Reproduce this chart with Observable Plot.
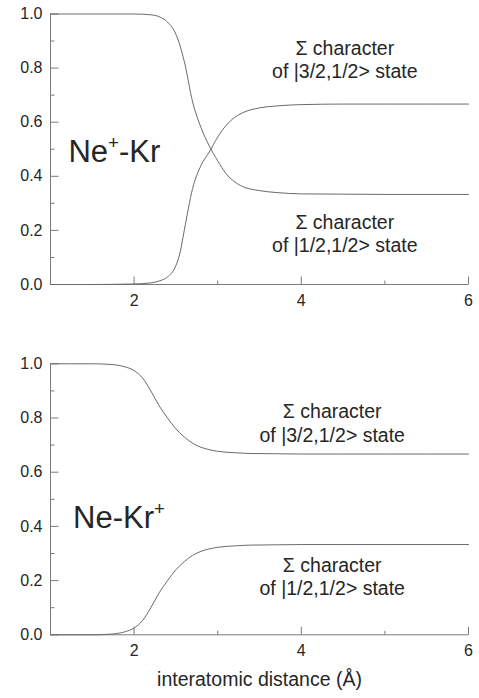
<!DOCTYPE html>
<html><head><meta charset="utf-8">
<script src="https://cdn.jsdelivr.net/npm/d3@7"></script>
<script src="https://cdn.jsdelivr.net/npm/@observablehq/plot@0.6"></script>
<style>
body{margin:0;background:#fff;}
#chart svg{display:block;}
</style></head><body><div id="chart"></div>
<script>
// ---- data ----
const topX = [1, 1.5, 2.0, 2.2, 2.3, 2.4, 2.5, 2.55, 2.6, 2.7, 2.8, 2.9, 3.0, 3.1, 3.2, 3.3, 3.5, 3.7, 4.0, 4.5, 5, 6];
const topHalf = [1, 1, 1.0, 0.997, 0.99, 0.97, 0.925, 0.882, 0.825, 0.675, 0.58, 0.512, 0.457, 0.41, 0.38, 0.362, 0.347, 0.34, 0.335, 0.334, 0.333, 0.333];
const topThreeHalf = [0, 0, 0.002, 0.006, 0.013, 0.028, 0.07, 0.118, 0.2, 0.355, 0.44, 0.49, 0.545, 0.588, 0.617, 0.635, 0.653, 0.66, 0.665, 0.667, 0.667, 0.667];

const botX = [1, 1.5, 1.7, 1.8, 1.9, 2.0, 2.1, 2.2, 2.3, 2.4, 2.5, 2.6, 2.7, 2.8, 2.9, 3.0, 3.2, 3.4, 3.7, 4.0, 4.5, 5, 6];
const botThreeHalf = [1, 1, 0.998, 0.995, 0.988, 0.975, 0.948, 0.9, 0.845, 0.8, 0.76, 0.73, 0.707, 0.692, 0.683, 0.677, 0.672, 0.669, 0.668, 0.667, 0.667, 0.667, 0.667];
const botHalf = [0, 0, 0.002, 0.005, 0.012, 0.025, 0.052, 0.1, 0.155, 0.2, 0.24, 0.27, 0.293, 0.308, 0.317, 0.323, 0.328, 0.331, 0.332, 0.333, 0.333, 0.333, 0.333];

const xMajor = [2, 4, 6];
const xMinor = [3, 5];
const yMajor = [0, 0.2, 0.4, 0.6, 0.8, 1.0];
const yMinor = [0.1, 0.3, 0.5, 0.7, 0.9];

const topLabel = "Ne^+^-Kr";
const botLabel = "Ne-Kr^+^";
const annThreeHalf = "\u03A3 character\nof |3/2,1/2> state";
const annHalf = "\u03A3 character\nof |1/2,1/2> state";
const xTitle = "interatomic distance (\u00C5)";

const FONT = "'Liberation Sans', Arial, Helvetica, sans-serif";
const AXC = "#7a7a7a";
const LINEC = "#6a6a6a";
const TXT = "#262626";
const W = 479, ML = 50, MR = 11;
const FW = W - ML - MR;
const XD = [1, 6], YD = [0, 1];

function rows(xs, ys) { return xs.map((x, i) => ({x, y: ys[i]})); }

function panel(o) {
  const FH = o.height - o.mt - o.mb;
  // tick lengths converted from pixels into data units of each scale
  const xPer = (XD[1] - XD[0]) / FW, yPer = (YD[1] - YD[0]) / FH;
  const yTicks = (vals, len) => Plot.link(vals, {x1: XD[0], x2: XD[0] + len * xPer, y1: d => d, y2: d => d, stroke: AXC, strokeWidth: 1});
  const xTicks = (vals, len) => Plot.link(vals, {y1: YD[0], y2: YD[0] + len * yPer, x1: d => d, x2: d => d, stroke: AXC, strokeWidth: 1});
  const marks = [
    Plot.ruleX([1], {stroke: AXC}),
    Plot.ruleY([0], {stroke: AXC}),
    yTicks(yMajor, 8),
    yTicks(yMinor, 4),
    xTicks(xMajor, 8),
    xTicks(xMinor, 4),
    Plot.axisY({ticks: yMajor, tickSize: 0, tickPadding: 8, tickFormat: d3.format(".1f"), label: null, fill: TXT, fontSize: 16}),
    Plot.axisX({ticks: xMajor, tickSize: 0, tickPadding: 10, tickFormat: d3.format("d"), label: null, fill: TXT, fontSize: 16}),
    Plot.line(rows(o.xs, o.a), {x: "x", y: "y", stroke: LINEC, strokeWidth: 1, curve: "monotone-x"}),
    Plot.line(rows(o.xs, o.b), {x: "x", y: "y", stroke: LINEC, strokeWidth: 1, curve: "monotone-x"}),
    Plot.text([o.label], {x: o.labelX, y: o.labelY, text: d => d, textAnchor: "start", fontSize: 31, fill: TXT}),
    Plot.text([annThreeHalf], {x: o.annX, y: o.annUpperY, text: d => d, textAnchor: "middle", lineAnchor: "middle", lineHeight: 1.2, fontSize: 19.5, fill: TXT}),
    Plot.text([annHalf], {x: o.annX, y: o.annLowerY, text: d => d, textAnchor: "middle", lineAnchor: "middle", lineHeight: 1.2, fontSize: 19.5, fill: TXT})
  ];
  if (o.title) {
    marks.push(Plot.text([o.title], {frameAnchor: "bottom", dy: 45, text: d => d, textAnchor: "middle", lineAnchor: "middle", fontSize: 19.5, fill: TXT}));
  }
  return Plot.plot({
    width: W, height: o.height,
    marginLeft: ML, marginRight: MR, marginTop: o.mt, marginBottom: o.mb,
    x: {domain: XD},
    y: {domain: YD},
    style: {fontFamily: FONT, fontSize: "15px", color: TXT, background: "white", overflow: "visible"},
    marks
  });
}

function superscripts(svg) {
  d3.select(svg).selectAll("text").each(function() {
    const t = this.textContent;
    if (!t.includes("^")) return;
    const parts = t.split("^");
    const el = d3.select(this);
    el.text(null);
    let raised = false;
    parts.forEach((p, i) => {
      if (!p) return;
      const sp = el.append("tspan").text(p);
      if (i % 2 === 1) { sp.attr("font-size", "0.6em").attr("dy", "-13"); raised = true; }
      else if (raised) { sp.attr("dy", "13"); raised = false; }
    });
  });
}

const chartEl = document.getElementById("chart");
const topPanel = panel({height: 320, mt: 13.5, mb: 36, xs: topX, a: topHalf, b: topThreeHalf,
  label: topLabel, labelX: 1.215, labelY: 0.488, annX: 4.52, annUpperY: 0.834, annLowerY: 0.191});
const botPanel = panel({height: 378, mt: 43.3, mb: 63.7, xs: botX, a: botThreeHalf, b: botHalf,
  label: botLabel, labelX: 1.27, labelY: 0.43, annX: 4.37, annUpperY: 0.783, annLowerY: 0.217, title: xTitle});
superscripts(topPanel); superscripts(botPanel);
chartEl.appendChild(topPanel);
chartEl.appendChild(botPanel);
</script></body></html>
